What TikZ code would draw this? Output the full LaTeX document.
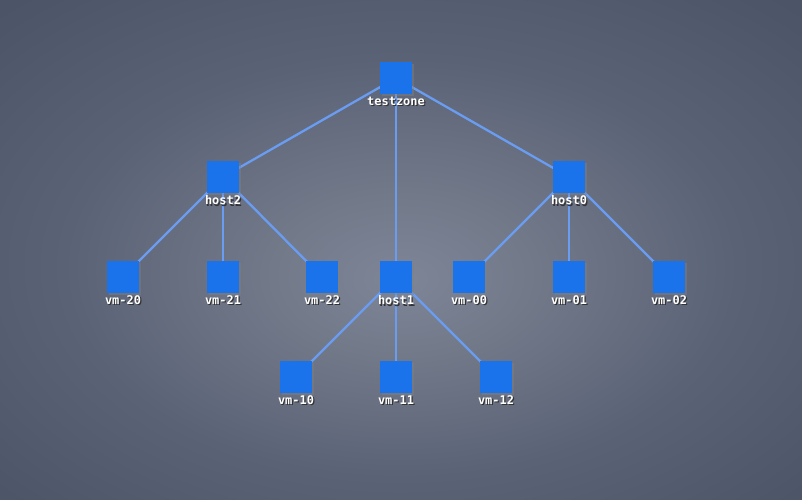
\documentclass[tikz,border=0pt]{standalone}
\usepackage{fontspec}
\newfontfamily\treefont{DejaVu Sans Mono Bold}
\usetikzlibrary{shadows,backgrounds}

\definecolor{boxblue}{HTML}{1A73EA}
\definecolor{linkblue}{HTML}{6A9DF2}
\definecolor{bgmid}{HTML}{7E8597}
\definecolor{bginner}{HTML}{727989}
\definecolor{bgouter}{HTML}{5A6276}
\definecolor{bgedge}{HTML}{4D5568}
\definecolor{bgcorner}{HTML}{42495C}

\pgfdeclarelayer{backdrop}
\pgfsetlayers{backdrop,background,main}

\pgfdeclareradialshading{backglow}{\pgfpoint{0bp}{-3bp}}{%
    color(0bp)=(bgmid); color(8bp)=(bginner); color(21bp)=(bgouter);
    color(34bp)=(bgedge); color(52bp)=(bgcorner)}

\newcommand{\hostlabel}[1]{\rlap{\kern0.7pt\raisebox{-0.7pt}{\textcolor{black!80}{#1}}}#1}

\begin{document}
\begin{tikzpicture}[
        x=0.02cm, y=-0.02cm,
        box/.style={fill=boxblue, minimum size=0.64cm, inner sep=0pt,
            drop shadow={shadow xshift=1.2pt, shadow yshift=-1.2pt, opacity=0.45},
            label={[hostname]below:{\hostlabel{#1}}}},
        hostname/.style={text=white, inner sep=0.4pt, label distance=0.8pt,
            font=\treefont\fontsize{6.8}{7}\selectfont},
        link/.style={draw=linkblue, line width=1.3pt}
    ]
        \begin{pgfonlayer}{backdrop}
            \fill[shading=backglow] (0,0) rectangle (802,500);
        \end{pgfonlayer}
        \useasboundingbox (0,0) rectangle (802,500);

        \node[box=testzone] (testzone) at (396,78) {};

        \node[box=host2] (host2) at (223,177) {};
        \node[box=host0] (host0) at (569,177) {};

        \node[box=vm-20] (vm20) at (123,277) {};
        \node[box=vm-21] (vm21) at (223,277) {};
        \node[box=vm-22] (vm22) at (322,277) {};
        \node[box=host1] (host1) at (396,277) {};
        \node[box=vm-00] (vm00) at (469,277) {};
        \node[box=vm-01] (vm01) at (569,277) {};
        \node[box=vm-02] (vm02) at (669,277) {};

        \node[box=vm-10] (vm10) at (296,377) {};
        \node[box=vm-11] (vm11) at (396,377) {};
        \node[box=vm-12] (vm12) at (496,377) {};

        \begin{scope}[on background layer]
            \foreach \a/\b in {testzone/host2, testzone/host1, testzone/host0,
                    host2/vm20, host2/vm21, host2/vm22,
                    host1/vm10, host1/vm11, host1/vm12,
                    host0/vm00, host0/vm01, host0/vm02}
                \draw[link] (\a.center) -- (\b.center);
        \end{scope}
    \end{tikzpicture}
\end{document}
